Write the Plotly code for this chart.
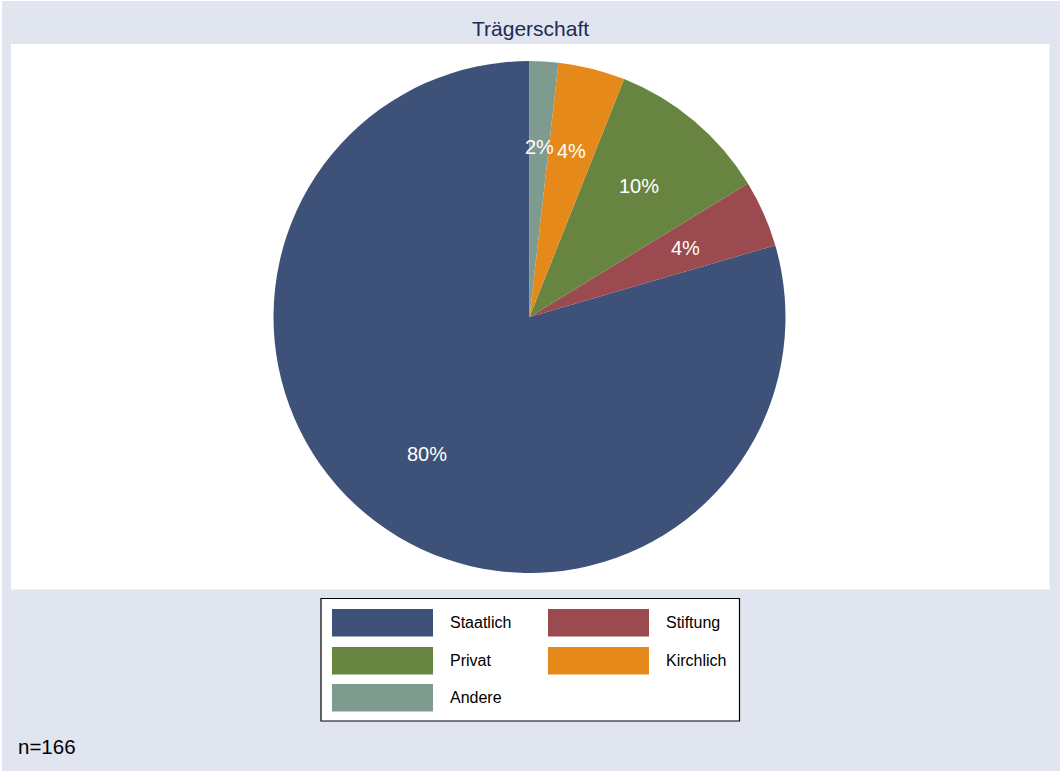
import math
import plotly.graph_objects as go

# ---- data ----
categories = ["Staatlich", "Stiftung", "Privat", "Kirchlich", "Andere"]
counts = [132, 7, 17, 7, 3]
colors = ["#3E5279", "#9B4A4F", "#678541", "#E6891B", "#7F9B8F"]
title_text = "Trägerschaft"
note_text = "n=166"

W, H = 1060, 771
BG = "#E0E5F0"
FONT = "Liberation Sans, Arial, sans-serif"

def px(x):
    return x / W

def py(y):
    return 1 - y / H

# pie geometry (pixels)
cx, cy, R = 529.5, 317.0, 256.0
total = sum(counts)

fig = go.Figure()
fig.add_trace(go.Pie(
    labels=categories,
    values=counts,
    marker=dict(colors=colors, line=dict(width=0)),
    sort=False,
    direction="counterclockwise",
    # first slice starts at 12 o'clock and runs counterclockwise
    rotation=-counts[0] / total * 360,
    textinfo="none",
    hoverinfo="label+percent",
    showlegend=False,
    domain=dict(x=[px(cx - R), px(cx + R)], y=[py(cy + R), py(cy - R)]),
))

shapes = []
annotations = []

# background panels
shapes.append(dict(type="rect", xref="paper", yref="paper", x0=px(2), x1=1, y0=0, y1=py(1),
                   fillcolor=BG, line=dict(width=0), layer="below"))
shapes.append(dict(type="rect", xref="paper", yref="paper", x0=px(11), x1=px(1049.5), y0=py(589.5), y1=py(44),
                   fillcolor="white", line=dict(width=0), layer="below"))

# percentage labels, computed from data
cum = 0
for c in counts:
    mid = (cum + c / 2) / total * 2 * math.pi  # counterclockwise from top
    cum += c
    r = R * 2 / 3
    x = cx - r * math.sin(mid)
    y = cy - r * math.cos(mid)
    annotations.append(dict(x=px(x), y=py(y), xref="paper", yref="paper",
                            text=f"{round(100 * c / total)}%", showarrow=False,
                            xanchor="center", yanchor="middle",
                            font=dict(family=FONT, size=20, color="white")))

# legend box
shapes.append(dict(type="rect", xref="paper", yref="paper", x0=px(321), x1=px(739.5), y0=py(721), y1=py(598.5),
                   fillcolor="white", line=dict(color="black", width=1.2)))
col_sw = [332, 548]
col_tx = [448, 664]
row_y = [609, 647, 684]
sw_w, sw_h = 101, 27.5
for i, (lab, col) in enumerate(zip(categories, colors)):
    r_i, c_i = divmod(i, 2)
    x0 = col_sw[c_i]
    y0 = row_y[r_i]
    shapes.append(dict(type="rect", xref="paper", yref="paper", x0=px(x0), x1=px(x0 + sw_w),
                       y0=py(y0 + sw_h), y1=py(y0), fillcolor=col, line=dict(width=0)))
    annotations.append(dict(x=px(col_tx[c_i]), y=py(y0 + sw_h / 2), xref="paper", yref="paper",
                            text=lab, showarrow=False, xanchor="left", yanchor="middle",
                            font=dict(family=FONT, size=16, color="black")))

# title and note
annotations.append(dict(x=px(530), y=py(28.5), xref="paper", yref="paper", text=title_text,
                        showarrow=False, xanchor="center", yanchor="middle",
                        font=dict(family=FONT, size=21, color="#1E2B50")))
annotations.append(dict(x=px(16), y=py(746), xref="paper", yref="paper", text=note_text,
                        showarrow=False, xanchor="left", yanchor="middle",
                        font=dict(family=FONT, size=20.5, color="black")))

fig.update_layout(
    width=W, height=H,
    margin=dict(l=0, r=0, t=0, b=0),
    paper_bgcolor="white",
    plot_bgcolor="white",
    shapes=shapes,
    annotations=annotations,
    font=dict(family=FONT),
)

fig.write_html("out.html", config={"displayModeBar": False},
               post_script="document.body.style.margin='0px';")
